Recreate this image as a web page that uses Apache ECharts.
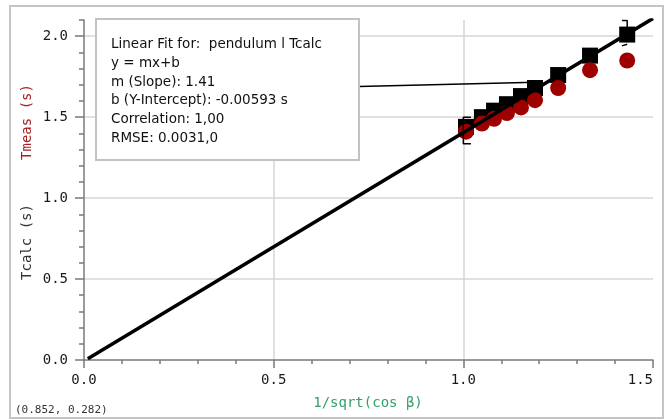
<!DOCTYPE html>
<html>
<head>
<meta charset="utf-8">
<script src="https://cdn.jsdelivr.net/npm/echarts@6/dist/echarts.min.js"></script>
<style>
  html, body { margin: 0; padding: 0; background: #fff; }
  #chart { width: 670px; height: 420px; }
</style>
</head>
<body>
<div id="chart"></div>
<script>
// 1/sqrt(cos beta) for each run
const xValues = [1.007, 1.049, 1.081, 1.115, 1.152, 1.189, 1.25, 1.334, 1.432]
// calculated period (black squares) and measured period (red dots), seconds
const tcalc = [1.44, 1.5, 1.54, 1.58, 1.63, 1.68, 1.76, 1.88, 2.01]
const tmeas = [1.41, 1.46, 1.49, 1.525, 1.56, 1.605, 1.68, 1.79, 1.85]
// linear fit drawn across the axis, end points
const fitX = [0.01, 1.5]
const fitY = [0.008, 2.11]
// fit range brackets and the label leader line
const bracketLeft = [[1.02, 1.5], [1.0, 1.5], [1.0, 1.335], [1.02, 1.335]]
const bracketRightTop = [[1.418, 2.097], [1.432, 2.097], [1.432, 2.04]]
const bracketRightBottom = [[1.432, 1.95], [1.432, 1.94], [1.418, 1.94]]
const leader = [[0.725, 1.69], [1.19, 1.715]]
const yTicks = [0, 0.5, 1, 1.5, 2]

const fitLines = [
  'Linear Fit for:  pendulum l Tcalc',
  'y = mx+b',
  'm (Slope): 1.41',
  'b (Y-Intercept): -0.00593 s',
  'Correlation: 1,00',
  'RMSE: 0.0031,0',
]

const mono = '"DejaVu Sans Mono", monospace'
const axisColor = '#7a7a7a'
const gridColor = '#d6d6d6'

const chart = echarts.init(document.getElementById('chart'))

const pairs = (ys) => xValues.map((x, i) => [x, ys[i]])
const blackLine = (data, width) => ({
  type: 'line',
  data,
  symbol: 'none',
  silent: true,
  lineStyle: { color: '#000', width },
})

chart.setOption({
  animation: false,
  grid: { left: 84, right: 17, top: 20, bottom: 60 },
  xAxis: {
    type: 'value',
    min: 0,
    max: 1.5,
    interval: 0.5,
    axisLine: { lineStyle: { color: axisColor, width: 1.5 } },
    axisTick: { length: 8, lineStyle: { color: axisColor, width: 1.5 } },
    minorTick: { show: true, splitNumber: 5, length: 4, lineStyle: { color: axisColor, width: 1.5 } },
    axisLabel: {
      formatter: (v) => v.toFixed(1),
      fontFamily: mono,
      fontSize: 14,
      color: '#1a1a1a',
      margin: 13,
      alignMaxLabel: 'right',
    },
    splitLine: {
      show: true,
      showMinLine: false,
      showMaxLine: false,
      lineStyle: { color: gridColor, width: 1.5 },
    },
  },
  yAxis: [
    {
      type: 'value',
      min: 0,
      max: 2.1,
      interval: 0.5,
      axisLine: { show: true, lineStyle: { color: axisColor, width: 1.5 } },
      axisTick: { length: 9, customValues: yTicks, lineStyle: { color: axisColor, width: 1.5 } },
      axisLabel: {
        customValues: yTicks,
        formatter: (v) => v.toFixed(1),
        fontFamily: mono,
        fontSize: 14,
        color: '#1a1a1a',
        margin: 16,
      },
      splitLine: {
        show: true,
        showMinLine: false,
        lineStyle: { color: gridColor, width: 1.5 },
      },
    },
    {
      // minor ticks every 0.1
      type: 'value',
      min: 0,
      max: 2.1,
      interval: 0.1,
      position: 'left',
      axisLine: { show: false },
      axisTick: { show: true, length: 5, lineStyle: { color: axisColor, width: 1.5 } },
      axisLabel: { show: false },
      splitLine: { show: false },
    },
  ],
  graphic: [
    {
      type: 'rect',
      shape: { x: 10, y: 6, width: 653, height: 412 },
      style: { fill: 'none', stroke: '#c4c4c4', lineWidth: 2 },
      silent: true,
    },
    {
      type: 'rect',
      z: 100,
      shape: { x: 96, y: 19, width: 263, height: 141 },
      style: { fill: '#fff', stroke: '#c2c2c2', lineWidth: 2 },
    },
    {
      type: 'text',
      z: 101,
      x: 111,
      y: 35,
      style: {
        text: fitLines.join('\n'),
        font: '13.5px "DejaVu Sans", sans-serif',
        lineHeight: 18.8,
        fill: '#111',
        verticalAlign: 'top',
      },
    },
    {
      type: 'text',
      x: 27,
      y: 242,
      rotation: Math.PI / 2,
      style: { text: 'Tcalc (s)', font: '14px ' + mono, fill: '#333', align: 'center', verticalAlign: 'middle' },
    },
    {
      type: 'text',
      x: 27,
      y: 122,
      rotation: Math.PI / 2,
      style: { text: 'Tmeas (s)', font: '14px ' + mono, fill: '#a52323', align: 'center', verticalAlign: 'middle' },
    },
    {
      type: 'text',
      x: 368,
      y: 403,
      style: { text: '1/sqrt(cos β)', font: '14px ' + mono, fill: '#33a068', align: 'center', verticalAlign: 'middle' },
    },
    {
      type: 'text',
      x: 15,
      y: 410,
      style: { text: '(0.852, 0.282)', font: '11px ' + mono, fill: '#333', verticalAlign: 'middle' },
    },
  ],
  series: [
    {
      name: 'Tcalc',
      type: 'scatter',
      data: pairs(tcalc),
      symbol: 'rect',
      symbolSize: 16,
      itemStyle: { color: '#000', opacity: 1 },
    },
    {
      name: 'Tmeas',
      type: 'scatter',
      data: pairs(tmeas),
      symbol: 'circle',
      symbolSize: 16,
      itemStyle: { color: '#9e0000', opacity: 1 },
    },
    blackLine(fitX.map((x, i) => [x, fitY[i]]), 3.5),
    blackLine(bracketLeft, 1.5),
    blackLine(bracketRightTop, 1.5),
    blackLine(bracketRightBottom, 1.5),
    blackLine(leader, 1.5),
  ],
})
</script>
</body>
</html>
